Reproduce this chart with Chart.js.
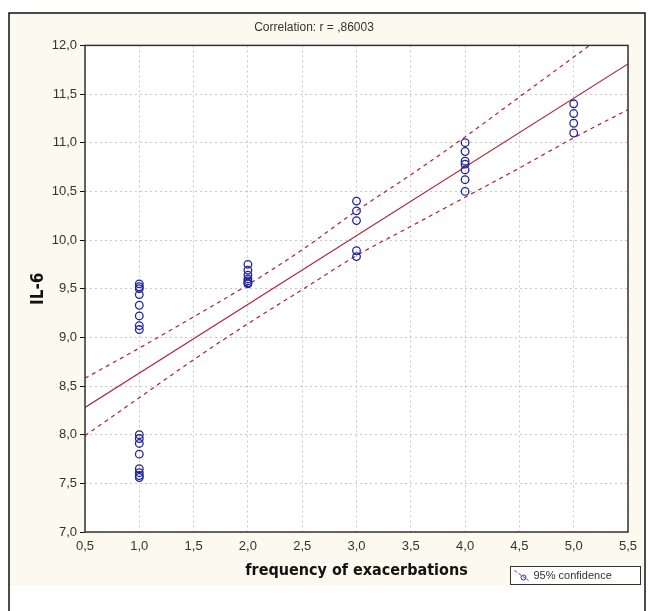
<!DOCTYPE html>
<html lang="en">
<head>
    <meta charset="UTF-8">
    <title>IL-6 vs frequency of exacerbations</title>
    <script src="https://cdn.jsdelivr.net/npm/chart.js"></script>
    <style>
        body { margin: 0; background: #fff; }
        canvas { display: block; }
    </style>
</head>
<body>
    <canvas id="corrChart" width="652" height="611"></canvas>

    <script>
        // observed points (frequency of exacerbations, IL-6)
        const obsX = [1, 1, 1, 1, 1, 1, 1, 1,
                      1, 1, 1, 1, 1, 1, 1, 1,
                      2, 2, 2, 2, 2, 2, 2,
                      3, 3, 3, 3, 3,
                      4, 4, 4, 4, 4, 4, 4,
                      5, 5, 5, 5];
        const obsIL6 = [9.55, 9.52, 9.50, 9.44, 9.33, 9.22, 9.12, 9.08,
                        8.00, 7.96, 7.91, 7.80, 7.65, 7.61, 7.58, 7.56,
                        9.75, 9.69, 9.64, 9.60, 9.58, 9.56, 9.55,
                        10.40, 10.30, 10.20, 9.89, 9.83,
                        11.00, 10.91, 10.81, 10.78, 10.72, 10.62, 10.50,
                        11.40, 11.30, 11.20, 11.10];

        // regression line end points
        const fitX = [0.5, 5.5];
        const fitY = [8.28, 11.81];

        // 95% confidence band
        const bandX = [0.5, 1.0, 1.5, 2.0, 2.5, 3.0, 3.5, 4.0, 4.5, 5.0, 5.5];
        const bandUpper = [8.58, 8.89, 9.21, 9.54, 9.90, 10.30, 10.67, 11.06, 11.47, 11.88, 12.29];
        const bandLower = [7.99, 8.38, 8.77, 9.14, 9.49, 9.84, 10.14, 10.44, 10.74, 11.05, 11.34];

        const titleText = 'Correlation: r = ,86003';
        const legendText = '95% confidence';

        const zip = (xs, ys) => xs.map((x, i) => ({ x: x, y: ys[i] }));
        const comma = v => Number(v).toFixed(1).replace('.', ',');

        const lineRed = '#b02030';
        const gridGrey = '#c8c8c8';
        const boldFont = '"DejaVu Sans Condensed", "Liberation Sans Narrow", sans-serif';

        // cream panel, outer frame, white plot area, legend box
        const framePlugin = {
            id: 'frame',
            beforeDraw(chart) {
                const ctx = chart.ctx;
                const a = chart.chartArea;
                ctx.save();
                ctx.fillStyle = '#ffffff';
                ctx.fillRect(0, 0, chart.width, chart.height);
                ctx.fillStyle = '#fcf9ef';
                ctx.fillRect(10, 14, 634, 572);
                ctx.strokeStyle = '#111';
                ctx.lineWidth = 1.5;
                ctx.strokeRect(9, 13, 636, 640);
                ctx.fillStyle = '#ffffff';
                ctx.fillRect(a.left, a.top, a.right - a.left, a.bottom - a.top);
                ctx.restore();
            },
            afterDraw(chart) {
                const ctx = chart.ctx;
                const a = chart.chartArea;
                ctx.save();
                ctx.strokeStyle = '#333';
                ctx.lineWidth = 1.5;
                ctx.strokeRect(a.left, a.top, a.right - a.left, a.bottom - a.top);

                // legend
                const lx = 510.5, ly = 566.5, lw = 130, lh = 18;
                ctx.fillStyle = '#ffffff';
                ctx.fillRect(lx, ly, lw, lh);
                ctx.strokeStyle = '#333';
                ctx.lineWidth = 1;
                ctx.strokeRect(lx, ly, lw, lh);
                ctx.strokeStyle = lineRed;
                ctx.setLineDash([3, 2]);
                ctx.beginPath();
                ctx.moveTo(lx + 4, ly + 4);
                ctx.lineTo(lx + 18, ly + 14);
                ctx.stroke();
                ctx.setLineDash([]);
                ctx.strokeStyle = '#2a2aa0';
                ctx.beginPath();
                ctx.arc(lx + 13, ly + 11, 2.5, 0, Math.PI * 2);
                ctx.stroke();
                ctx.fillStyle = '#333';
                ctx.font = '11px "Liberation Sans", Arial, sans-serif';
                ctx.textBaseline = 'middle';
                ctx.fillText(legendText, lx + 23, ly + lh / 2 + 0.5);
                ctx.restore();
            }
        };

        new Chart(document.getElementById('corrChart'), {
            type: 'scatter',
            data: {
                datasets: [
                    {
                        label: 'IL-6',
                        data: zip(obsX, obsIL6),
                        showLine: false,
                        pointStyle: 'circle',
                        pointRadius: 3.8,
                        pointBorderWidth: 1.3,
                        pointBorderColor: '#23239c',
                        pointBackgroundColor: 'rgba(0,0,0,0)',
                        order: 0
                    },
                    {
                        label: 'fit',
                        data: zip(fitX, fitY),
                        showLine: true,
                        borderColor: lineRed,
                        borderWidth: 1.2,
                        pointRadius: 0,
                        order: 1
                    },
                    {
                        label: legendText,
                        data: zip(bandX, bandUpper),
                        showLine: true,
                        borderColor: lineRed,
                        borderWidth: 1.2,
                        borderDash: [4, 4],
                        cubicInterpolationMode: 'monotone',
                        pointRadius: 0,
                        order: 2
                    },
                    {
                        label: 'lower',
                        data: zip(bandX, bandLower),
                        showLine: true,
                        borderColor: lineRed,
                        borderWidth: 1.2,
                        borderDash: [4, 4],
                        cubicInterpolationMode: 'monotone',
                        pointRadius: 0,
                        order: 2
                    }
                ]
            },
            options: {
                responsive: false,
                animation: false,
                layout: { padding: { left: 0, right: 24, top: 14, bottom: 25 } },
                plugins: {
                    legend: { display: false },
                    tooltip: { enabled: false },
                    title: {
                        display: true,
                        text: titleText,
                        color: '#333',
                        font: { family: '"Liberation Sans", Arial, sans-serif', size: 12, weight: 'normal' },
                        padding: { top: 6, bottom: 11 }
                    }
                },
                scales: {
                    x: {
                        type: 'linear',
                        min: 0.5,
                        max: 5.5,
                        afterFit: s => { s.height = 54; },
                        ticks: {
                            stepSize: 0.5,
                            color: '#333',
                            padding: 3,
                            maxRotation: 0,
                            font: { family: '"Liberation Sans", Arial, sans-serif', size: 13 },
                            callback: v => comma(v)
                        },
                        grid: { color: gridGrey, tickLength: 4, tickColor: 'rgba(0,0,0,0)' },
                        border: { display: false, dash: [2, 3] },
                        title: {
                            display: true,
                            text: 'frequency of exacerbations',
                            color: '#111',
                            font: { family: boldFont, size: 16, weight: 'bold' },
                            padding: { top: 0, bottom: 6 }
                        }
                    },
                    y: {
                        type: 'linear',
                        min: 7,
                        max: 12,
                        afterFit: s => { s.width = 85; },
                        ticks: {
                            stepSize: 0.5,
                            color: '#333',
                            padding: 3,
                            font: { family: '"Liberation Sans", Arial, sans-serif', size: 13 },
                            callback: v => comma(v)
                        },
                        grid: { color: gridGrey, tickLength: 5, tickColor: '#111' },
                        border: { display: false, dash: [2, 3] },
                        title: {
                            display: true,
                            text: 'IL-6',
                            color: '#111',
                            font: { family: boldFont, size: 17, weight: 'bold' },
                            padding: { top: 28, bottom: 0 }
                        }
                    }
                }
            },
            plugins: [framePlugin]
        });
    </script>
</body>
</html>
